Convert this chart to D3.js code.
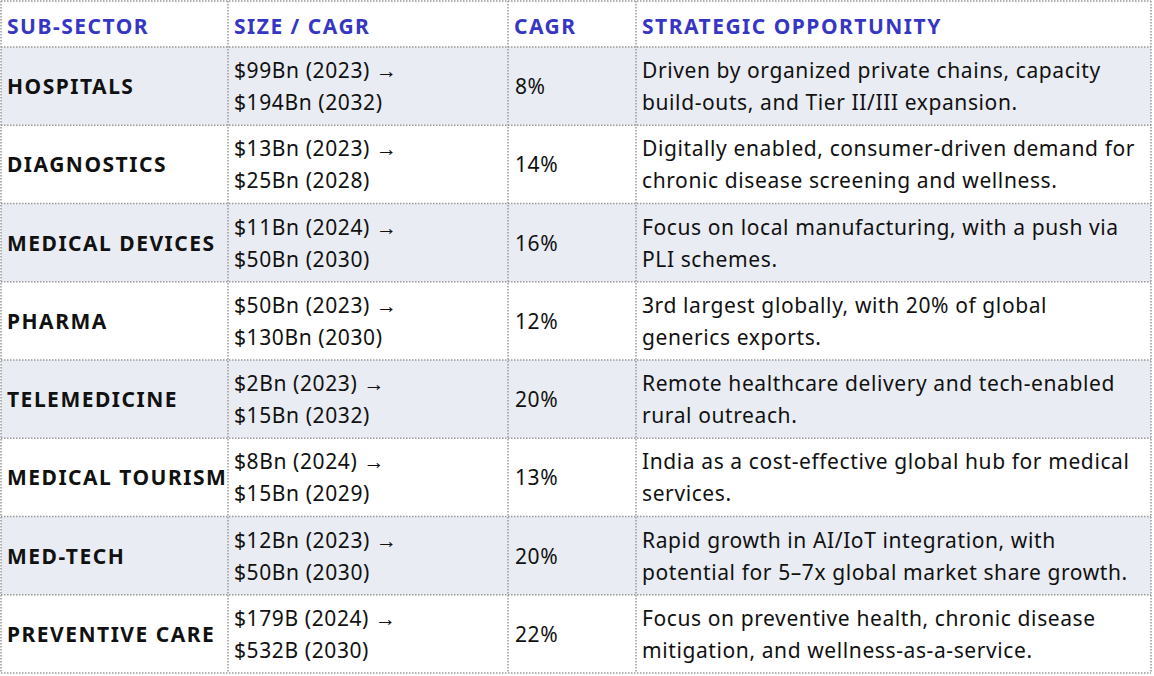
<!DOCTYPE html><html><head><meta charset="utf-8"><script src="https://cdn.jsdelivr.net/npm/d3@7"></script>
<style>body{margin:0;background:#fff}</style></head><body><svg id="c" width="1154" height="676"></svg>
<script>
const headers=["SUB-SECTOR","SIZE / CAGR","CAGR","STRATEGIC OPPORTUNITY"];
const sectors=["HOSPITALS","DIAGNOSTICS","MEDICAL DEVICES","PHARMA","TELEMEDICINE","MEDICAL TOURISM","MED-TECH","PREVENTIVE CARE"];
const sizes=[["$99Bn (2023) →","$194Bn (2032)"],["$13Bn (2023) →","$25Bn (2028)"],["$11Bn (2024) →","$50Bn (2030)"],["$50Bn (2023) →","$130Bn (2030)"],["$2Bn (2023) →","$15Bn (2032)"],["$8Bn (2024) →","$15Bn (2029)"],["$12Bn (2023) →","$50Bn (2030)"],["$179B (2024) →","$532B (2030)"]];
const cagr=["8%","14%","16%","12%","20%","13%","20%","22%"];
const opps=[["Driven by organized private chains, capacity","build-outs, and Tier II/III expansion."],["Digitally enabled, consumer-driven demand for","chronic disease screening and wellness."],["Focus on local manufacturing, with a push via","PLI schemes."],["3rd largest globally, with 20% of global","generics exports."],["Remote healthcare delivery and tech-enabled","rural outreach."],["India as a cost-effective global hub for medical","services."],["Rapid growth in AI/IoT integration, with","potential for 5–7x global market share growth."],["Focus on preventive health, chronic disease","mitigation, and wellness-as-a-service."]];
const svg=d3.select("#c");
const colX=[1,228,508,636,1151];
const headH=47;
const y=d3.scaleBand().domain(d3.range(sectors.length)).range([headH,673]);
const font="'Noto Sans', sans-serif";
svg.selectAll("rect.bg").data(sectors).join("rect").attr("x",colX[0]).attr("width",colX[4]-colX[0])
 .attr("y",(d,i)=>y(i)).attr("height",y.bandwidth()).attr("fill",(d,i)=>i%2===0?"#e9ecf3":"#fff");
svg.selectAll("text.h").data(headers).join("text").attr("x",(d,i)=>colX[i]+6).attr("y",34)
 .attr("font-family",font).attr("font-weight",700).attr("font-size",21).attr("fill","#3636c4").attr("letter-spacing",1.5).text(d=>d);
svg.selectAll("text.s").data(sectors).join("text").attr("x",colX[0]+6).attr("y",(d,i)=>y(i)+y.bandwidth()/2+8)
 .attr("font-family",font).attr("font-weight",700).attr("font-size",21).attr("fill","#111").attr("letter-spacing",1.5).text(d=>d);
svg.selectAll("text.c").data(cagr).join("text").attr("x",colX[2]+7).attr("y",(d,i)=>y(i)+y.bandwidth()/2+8)
 .attr("font-family",font).attr("font-size",21).attr("fill","#111").attr("letter-spacing",0.6).text(d=>d);
function two(data,ci){
 const g=svg.append("g");
 data.forEach((lines,i)=>{lines.forEach((t,j)=>{g.append("text").attr("x",colX[ci]+6).attr("y",y(i)+y.bandwidth()/2-8+j*32)
  .attr("font-family",font).attr("font-size",21).attr("fill","#111").attr("letter-spacing",0.6).text(t);});});
}
two(sizes,1);two(opps,3);
const hs=[1,headH].concat(sectors.map((d,i)=>y(i)+y.bandwidth()));
svg.selectAll("line.h").data(hs).join("line").attr("x1",colX[0]).attr("x2",colX[4]).attr("y1",d=>d).attr("y2",d=>d)
 .attr("stroke","#999").attr("stroke-width",1.5).attr("stroke-dasharray","1.5,1.5");
svg.selectAll("line.v").data(colX).join("line").attr("y1",1).attr("y2",673).attr("x1",d=>d).attr("x2",d=>d)
 .attr("stroke","#999").attr("stroke-width",1.5).attr("stroke-dasharray","1.5,1.5");
</script></body></html>
